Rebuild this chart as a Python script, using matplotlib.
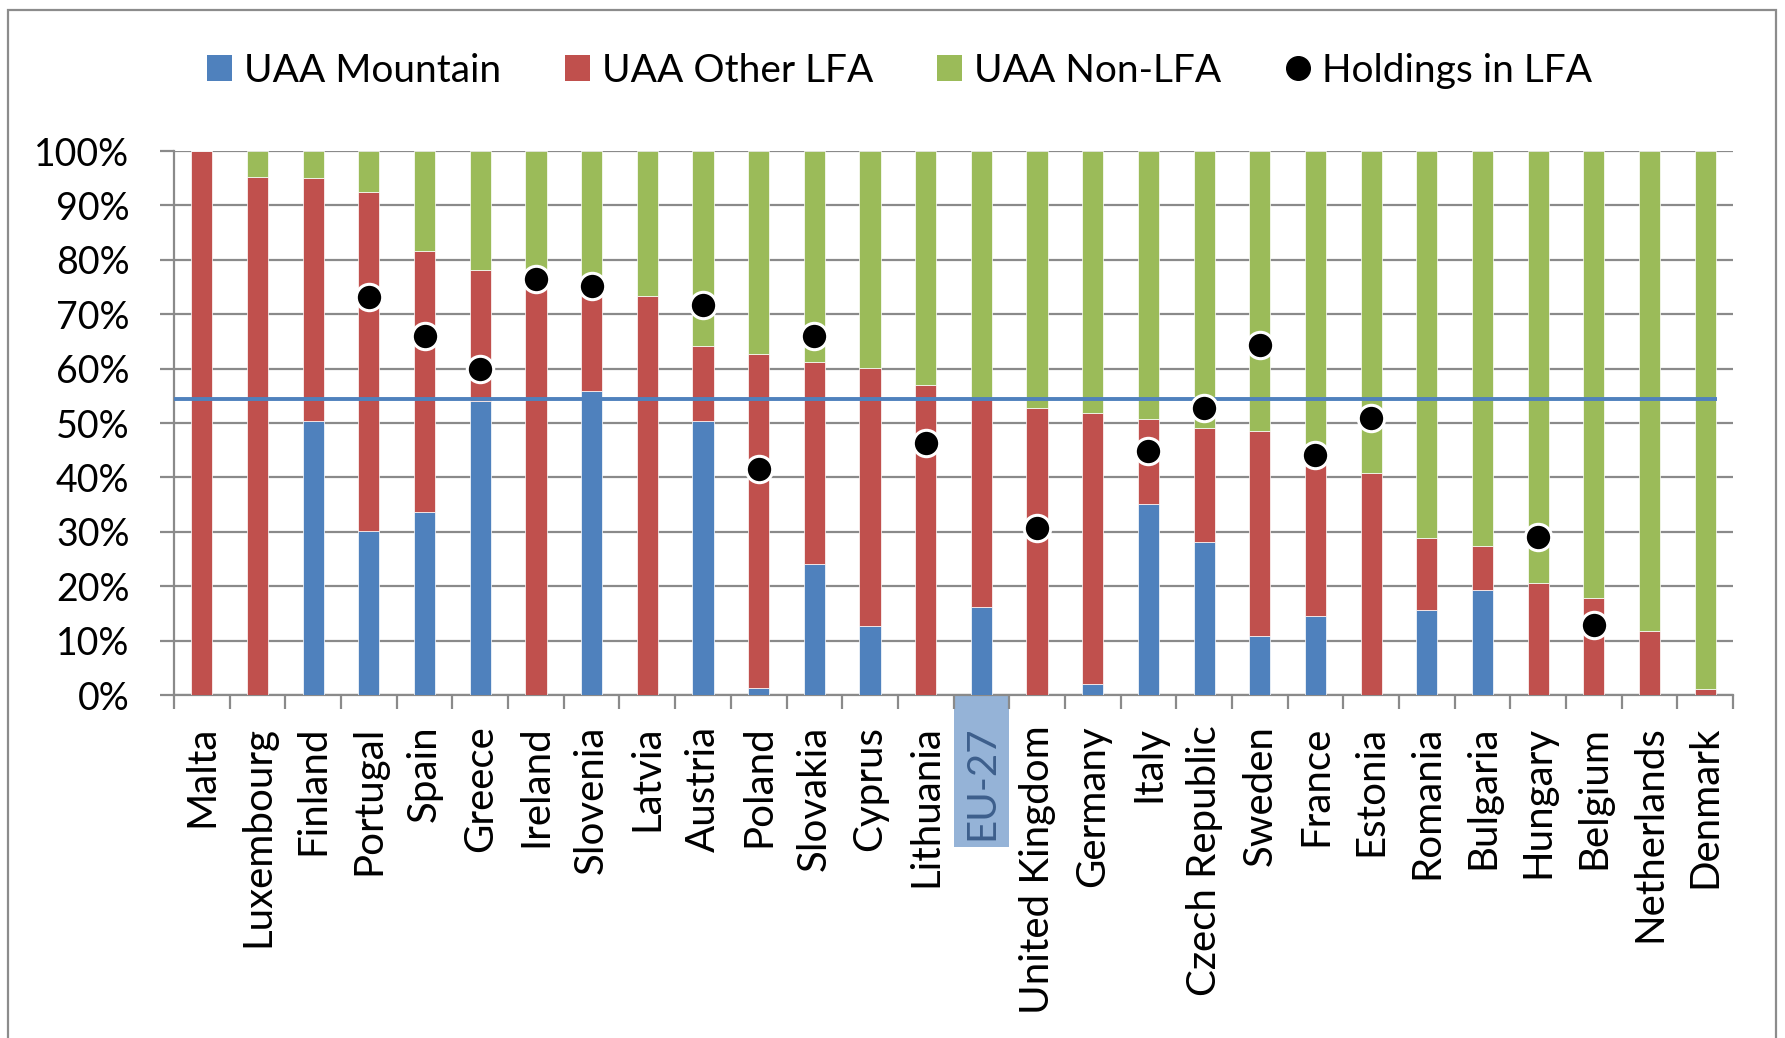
import numpy as np
import matplotlib
matplotlib.use("Agg")
import matplotlib.pyplot as plt
from matplotlib.patches import Patch, Rectangle
from matplotlib.lines import Line2D
import matplotlib.transforms as mtransforms

countries = ["Malta", "Luxembourg", "Finland", "Portugal", "Spain", "Greece", "Ireland",
             "Slovenia", "Latvia", "Austria", "Poland", "Slovakia", "Cyprus", "Lithuania",
             "EU-27", "United Kingdom", "Germany", "Italy", "Czech Republic", "Sweden",
             "France", "Estonia", "Romania", "Bulgaria", "Hungary", "Belgium",
             "Netherlands", "Denmark"]

uaa_mountain = [0, 0, 50.4, 30.2, 33.6, 54.0, 0, 55.9, 0, 50.4, 1.3, 24.0, 12.6, 0,
                16.2, 0, 2.0, 35.2, 28.2, 10.8, 14.6, 0, 15.7, 19.3, 0, 0, 0, 0]
uaa_other_lfa = [100, 95.3, 44.7, 62.2, 48.1, 24.1, 75.5, 18.6, 73.4, 13.7, 61.3, 37.3,
                 47.6, 57.0, 38.3, 52.8, 49.9, 15.6, 20.9, 37.7, 27.9, 40.8, 13.2, 8.1,
                 20.6, 17.8, 11.8, 1.2]
uaa_non_lfa = [0, 4.7, 4.9, 7.6, 18.3, 21.9, 24.5, 25.5, 26.6, 35.9, 37.4, 38.7, 39.8,
               43.0, 45.5, 47.2, 48.1, 49.2, 50.9, 51.5, 57.5, 59.2, 71.1, 72.6, 79.4,
               82.2, 88.2, 98.8]
holdings_lfa = [np.nan, np.nan, np.nan, 73.2, 66.0, 60.0, 76.5, 75.2, np.nan, 71.7, 41.5,
                66.0, np.nan, 46.3, np.nan, 30.7, np.nan, 44.9, 52.8, 64.4, 44.1, 51.0,
                np.nan, np.nan, 29.1, 12.9, np.nan, np.nan]
eu27_holdings_line = 54.5
yticks = list(range(0, 101, 10))

C_BLUE = "#4F81BD"
C_RED = "#C0504D"
C_GREEN = "#9BBB59"
C_GRID = "#8A8A8A"
FONT = "Lato"

plt.rcParams["font.family"] = [FONT, "DejaVu Sans"]

fig = plt.figure(figsize=(17.85, 10.38), dpi=100)
ax = fig.add_axes([0.0975, 0.3304, 0.8734, 0.5241])

x = np.arange(len(countries))
m = np.array(uaa_mountain)
o = np.array(uaa_other_lfa)
n = np.array(uaa_non_lfa)
w = 0.38
kw = dict(width=w, edgecolor="white", linewidth=0.5, zorder=3)
ax.bar(x, m, color=C_BLUE, **kw)
ax.bar(x, o, bottom=m, color=C_RED, **kw)
ax.bar(x, n, bottom=m + o, color=C_GREEN, **kw)

ax.plot([-0.5, len(countries) - 1 + w / 2 + 0.02], [eu27_holdings_line] * 2,
        color=C_BLUE, lw=2.8, zorder=4, solid_capstyle="butt")
ax.plot(x, holdings_lfa, linestyle="none", marker="o", ms=19, mfc="black",
        mec="white", mew=2.2, zorder=5)

ax.set_xlim(-0.5, len(countries) - 0.5)
ax.set_ylim(0, 100)
ax.set_yticks(yticks)
ax.set_yticklabels([f"{v}%" for v in yticks], fontsize=27, fontfamily=FONT)
ax.yaxis.grid(True, color=C_GRID, lw=1.6, zorder=0)
ax.set_axisbelow(True)

ax.set_xticks(x)
ax.set_xticklabels(countries, rotation=90, fontsize=29, fontfamily=FONT)
ax.set_xticks(np.arange(-0.5, len(countries)), minor=True)
ax.tick_params(axis="x", which="major", length=0, pad=22)
ax.tick_params(axis="x", which="minor", length=10, width=1.6, color=C_GRID)
ax.tick_params(axis="y", which="major", length=10, width=1.6, color=C_GRID, pad=22)

for s in ["top", "right"]:
    ax.spines[s].set_visible(False)
for s in ["left", "bottom"]:
    ax.spines[s].set_color(C_GRID)
    ax.spines[s].set_linewidth(1.6)

# highlight EU-27 label
idx = countries.index("EU-27")
trans = mtransforms.blended_transform_factory(ax.transData, ax.transAxes)
ax.add_patch(Rectangle((idx - 0.5, -0.28), 1.0, 0.28, transform=trans,
                       facecolor="#95B3D7", edgecolor="none", clip_on=False, zorder=0))
for lab in ax.get_xticklabels():
    if lab.get_text() == "EU-27":
        lab.set_color("#3D5F8C")

handles = [Patch(facecolor=C_BLUE, edgecolor="none"),
           Patch(facecolor=C_RED, edgecolor="none"),
           Patch(facecolor=C_GREEN, edgecolor="none"),
           Line2D([], [], linestyle="none", marker="o", ms=17, mfc="black", mec="black")]
labels = ["UAA Mountain", "UAA Other LFA", "UAA Non-LFA", "Holdings in LFA"]
fig.legend(handles, labels, loc="center", bbox_to_anchor=(0.504, 0.932), ncol=4,
           frameon=False, handlelength=0.64, handleheight=0.64,
           handletextpad=0.3, columnspacing=1.65, prop={"family": FONT, "size": 28})

fig.patches.append(Rectangle((7.5 / 1785, -0.05), (1776 - 7.5) / 1785, 1.05 - 10 / 1038,
                             transform=fig.transFigure, facecolor="none",
                             edgecolor="#8C8C8C", lw=1.6, zorder=-1))

fig.savefig("out.png", dpi=100, facecolor="white")
